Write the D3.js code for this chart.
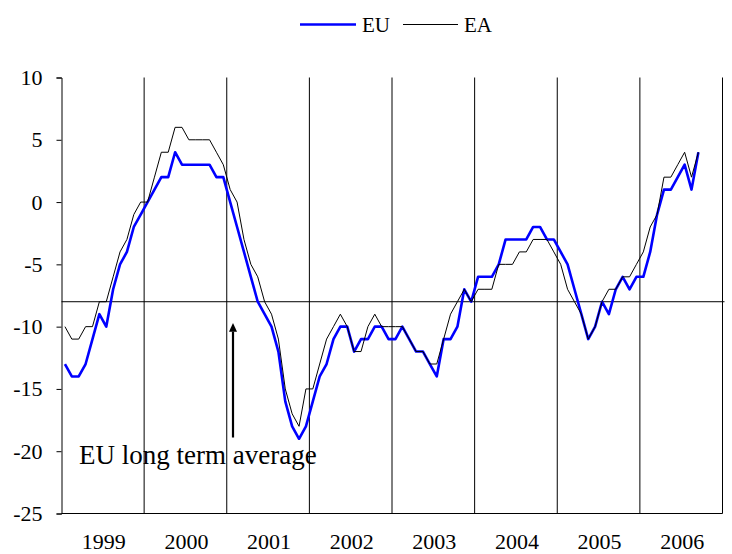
<!DOCTYPE html>
<html>
<head>
<meta charset="utf-8">
<script src="https://cdn.jsdelivr.net/npm/d3@7"></script>
<style>
  html, body { margin: 0; padding: 0; background: #fff; }
  svg text { font-family: "Liberation Serif", "Times New Roman", Times, "DejaVu Serif", serif; }
</style>
</head>
<body>
<div id="chart"></div>
<script>
/* Confidence indicator, EU vs EA, monthly Jan 1999 – Sep 2006 */

const YEARS = ["1999", "2000", "2001", "2002", "2003", "2004", "2005", "2006"];
const Y_TICKS = [10, 5, 0, -5, -10, -15, -20, -25];
const LONG_TERM_AVG = -8;

// one value per month, starting January 1999
const EU = [
  -13, -14, -14, -13, -11, -9, -10, -7, -5, -4, -2, -1,
  0, 1, 2, 2, 4, 3, 3, 3, 3, 3, 2, 2,
  0, -2, -4, -6, -8, -9, -10, -12, -16, -18, -19, -18,
  -16, -14, -13, -11, -10, -10, -12, -11, -11, -10, -10, -11,
  -11, -10, -11, -12, -12, -13, -14, -11, -11, -10, -7, -8,
  -6, -6, -6, -5, -3, -3, -3, -3, -2, -2, -3, -3,
  -4, -5, -7, -9, -11, -10, -8, -9, -7, -6, -7, -6,
  -6, -4, -1, 1, 1, 2, 3, 1, 4,
];
const EA = [
  -10, -11, -11, -10, -10, -8, -8, -6, -4, -3, -1, 0,
  0, 2, 4, 4, 6, 6, 5, 5, 5, 5, 4, 3,
  1, 0, -3, -5, -6, -8, -9, -11, -15, -17, -18, -15,
  -15, -13, -11, -10, -9, -10, -12, -12, -10, -9, -10, -10,
  -10, -10, -11, -12, -12, -13, -13, -11, -9, -8, -7, -8,
  -7, -7, -7, -5, -5, -5, -4, -4, -3, -3, -3, -4,
  -5, -7, -8, -9, -11, -10, -8, -7, -7, -6, -6, -5,
  -4, -2, -1, 2, 2, 3, 4, 2, 4,
];

const W = 732, H = 554;
const M = { left: 61.5, right: 722.5, top: 77.5, bottom: 513.5 };

const svg = d3.select("#chart").append("svg")
  .attr("width", W).attr("height", H);

const nMonths = YEARS.length * 12;
const x = d3.scaleLinear().domain([0, nMonths]).range([M.left, M.right]);
const y = d3.scaleLinear().domain([-25, 10]).range([M.bottom, M.top]);

// vertical year separators
svg.append("g").selectAll("line")
  .data(d3.range(1, YEARS.length + 1)).join("line")
  .attr("x1", (k) => x(k * 12)).attr("x2", (k) => x(k * 12))
  .attr("y1", M.top).attr("y2", M.bottom)
  .attr("stroke", "#000").attr("stroke-width", 1);

// long term average line
svg.append("line")
  .attr("x1", M.left).attr("x2", M.right + 2)
  .attr("y1", y(LONG_TERM_AVG)).attr("y2", y(LONG_TERM_AVG))
  .attr("stroke", "#000").attr("stroke-width", 1);

// y axis
const yAxis = svg.append("g").attr("transform", `translate(${M.left},0)`)
  .call(d3.axisLeft(y).tickValues(Y_TICKS).tickSize(5).tickPadding(14)
    .tickFormat((d) => String(d)));
yAxis.select(".domain").attr("stroke", "#000");
yAxis.selectAll("text").attr("font-size", 22).attr("fill", "#000");
yAxis.attr("font-family", null).attr("font-size", null);

// x axis line
svg.append("line")
  .attr("x1", M.left).attr("x2", M.right)
  .attr("y1", M.bottom).attr("y2", M.bottom)
  .attr("stroke", "#000");

// year labels
svg.append("g").selectAll("text")
  .data(YEARS).join("text")
  .attr("x", (d, i) => x(i * 12 + 6) + 1)
  .attr("y", 549)
  .attr("text-anchor", "middle")
  .attr("font-size", 22)
  .text((d) => d);

// series
const line = d3.line().x((d, i) => x(i + 0.5)).y((d) => y(d));
svg.append("path").datum(EU)
  .attr("d", line).attr("fill", "none")
  .attr("stroke", "#0000ff").attr("stroke-width", 2.6)
  .attr("stroke-linejoin", "round");
svg.append("path").datum(EA)
  .attr("d", line).attr("fill", "none")
  .attr("stroke", "#000").attr("stroke-width", 1);

// annotation
const ax = 233;
svg.append("line")
  .attr("x1", ax).attr("x2", ax)
  .attr("y1", y(-18.9)).attr("y2", y(-10.4))
  .attr("stroke", "#000").attr("stroke-width", 2.2);
svg.append("path")
  .attr("d", `M${ax - 4},${y(-10.4)} L${ax},${y(-9.7)} L${ax + 4},${y(-10.4)} Z`)
  .attr("fill", "#000");
svg.append("text")
  .attr("x", 79).attr("y", 464)
  .attr("font-size", 27)
  .text("EU long term average");

// legend
const leg = svg.append("g");
leg.append("line").attr("x1", 300).attr("x2", 356).attr("y1", 24.5).attr("y2", 24.5)
  .attr("stroke", "#0000ff").attr("stroke-width", 2.6);
leg.append("text").attr("x", 362).attr("y", 32).attr("font-size", 21).text("EU");
leg.append("line").attr("x1", 403).attr("x2", 458).attr("y1", 24.5).attr("y2", 24.5)
  .attr("stroke", "#000").attr("stroke-width", 1);
leg.append("text").attr("x", 464).attr("y", 32).attr("font-size", 21).text("EA");
</script>
</body>
</html>
